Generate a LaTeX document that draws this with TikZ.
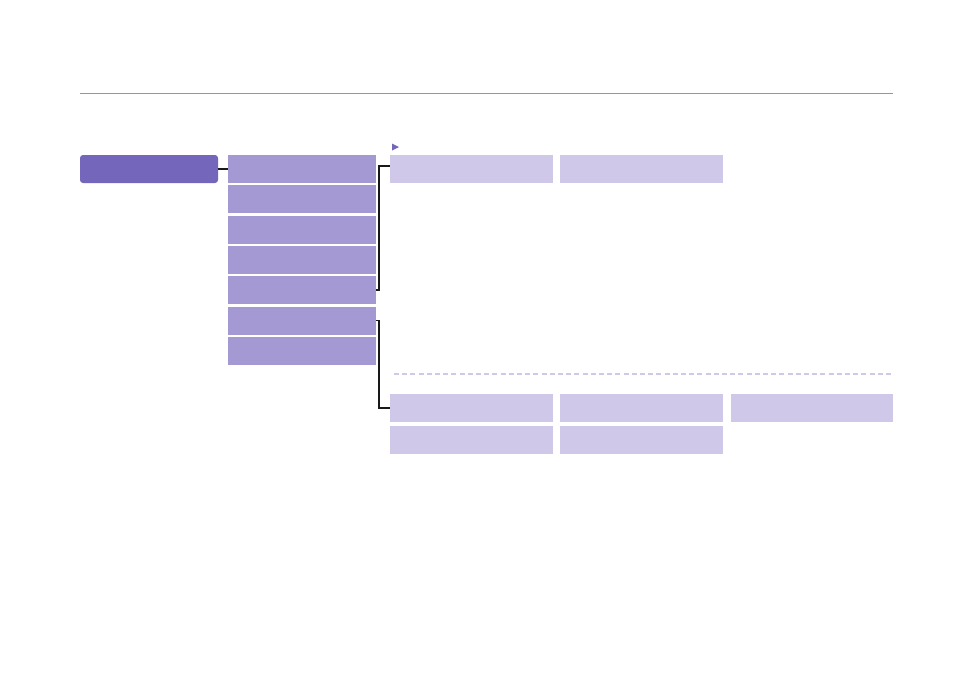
\documentclass[tikz,border=0pt]{standalone}
\usetikzlibrary{positioning}
\definecolor{deeplav}{HTML}{7366BB}
\definecolor{midlav}{HTML}{A599D4}
\definecolor{palelav}{HTML}{D0C8E8}
\definecolor{rulelav}{HTML}{978AD0}
\tikzset{
  rootbox/.style={fill=deeplav, rounded corners=3pt, minimum width=138pt,
    minimum height=28pt, inner sep=0pt, outer sep=0pt, anchor=north west},
  itembox/.style={fill=midlav, minimum width=148pt, minimum height=28pt,
    inner sep=0pt, outer sep=0pt, anchor=north west},
  leafbox/.style={fill=palelav, minimum width=163pt, minimum height=28pt,
    inner sep=0pt, outer sep=0pt},
  link/.style={draw=black!90, line width=1.5pt},
}

\begin{document}
\begin{tikzpicture}[x=1pt, y=-1pt]
  \useasboundingbox (0,0) rectangle (955,678);
  % heading rule
  \draw[rulelav, line width=1.5pt] (80,93.5) -- (893,93.5);

  \node[rootbox] (root) at (80,155) {};
  \foreach \i in {1,...,7} {
    \node[itembox] (item\i) at (228,{155+30.3*(\i-1)}) {};
  }

  % upper group
  \fill[deeplav] (392,143.5) -- (399,147) -- (392,150.5) -- cycle;
  \node[leafbox, anchor=north west] (t1) at (390,155) {};
  \node[leafbox, right=7pt of t1] (t2) {};

  % lower group
  \draw[palelav, line width=1.5pt, dash pattern=on 5pt off 3.2pt] (394,374) -- (893,374);
  \node[leafbox, anchor=north west] (b1) at (390,394) {};
  \node[leafbox, right=7pt of b1] (b2) {};
  \node[leafbox, right=8pt of b2, minimum width=162pt] (b3) {};
  \node[leafbox, below=4pt of b1] (b4) {};
  \node[leafbox, below=4pt of b2] (b5) {};

  \draw[link] (root.east) -- (item1.west);
  \draw[link] (item5.east) -- ++(3,0) |- ([yshift=3pt]t1.west);
  \draw[link] (item6.east) -- ++(3,0) |- (b1.west);
\end{tikzpicture}
\end{document}
